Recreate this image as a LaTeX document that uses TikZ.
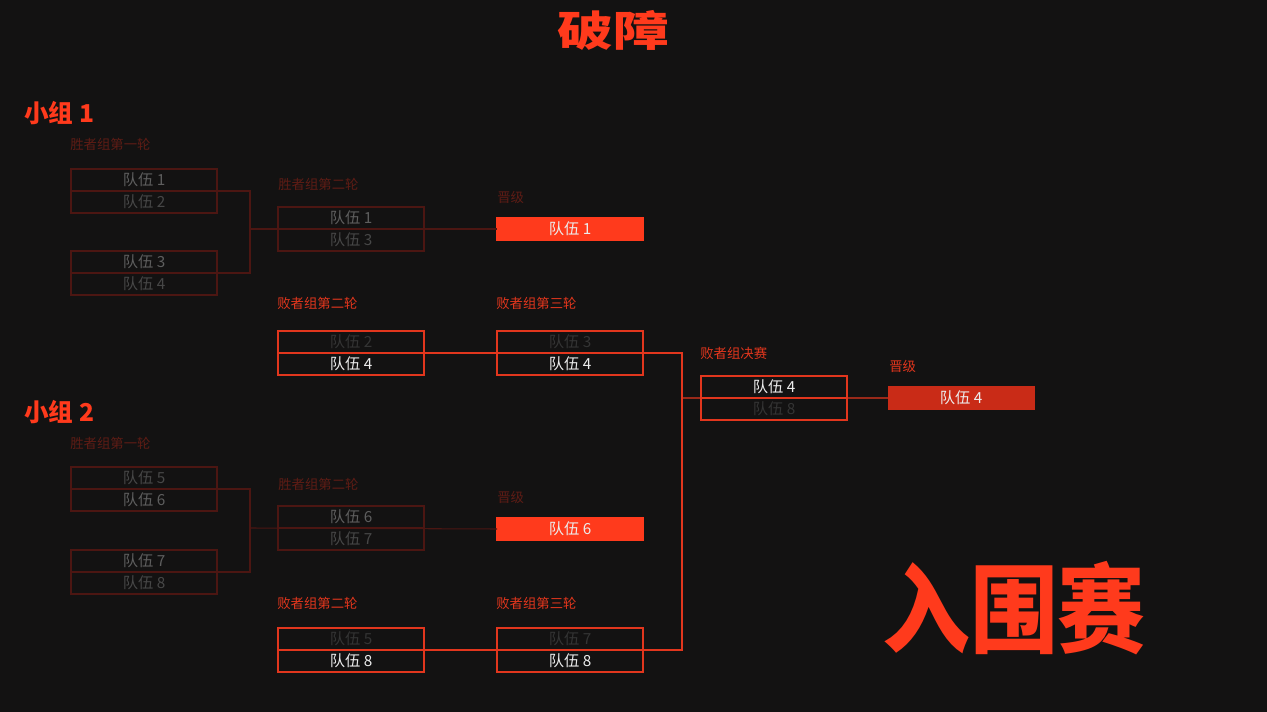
\documentclass[tikz,border=0pt]{standalone}
\usepackage{fontspec}
\usepackage{graphicx}
\setmainfont{Noto Sans CJK SC}
\usetikzlibrary{positioning}

\definecolor{bg}{HTML}{131212}
\definecolor{hot}{HTML}{FF3A1C}
\definecolor{deep}{HTML}{C92B17}
\definecolor{edge}{HTML}{E2361D}
\definecolor{faintedge}{HTML}{4C1612}
\definecolor{fainttag}{HTML}{5E1C15}
\definecolor{lit}{HTML}{ECECEC}
\definecolor{mid}{HTML}{5E5E5E}
\definecolor{low}{HTML}{474747}
\definecolor{off}{HTML}{343434}

\begin{document}
\begin{tikzpicture}[
		x=0.02cm, y=-0.02cm,
		slot/.style={rectangle, draw=edge, line width=0.6pt, outer sep=0pt, inner sep=0pt,
			minimum width=2.92cm, minimum height=0.44cm, text=lit,
			font=\fontsize{8.7}{10}\selectfont},
		faintslot/.style={slot, draw=faintedge, text=low},
		pass/.style={slot, fill=hot, draw=hot, text=lit},
		tag/.style={anchor=west, inner sep=0pt, text=edge, font=\fontsize{7.6}{9}\selectfont},
		fainttag/.style={tag, text=fainttag},
		group/.style={anchor=west, inner sep=0pt, text=hot, font=\fontsize{14}{16}\selectfont\bfseries},
		wire/.style={draw=edge, line width=0.6pt},
		faintwire/.style={draw=faintedge, line width=0.6pt}
	]
		\fill[bg] (0,0) rectangle (1267,712);
		
		% titles
		\node[text=hot, font=\fontsize{27}{30}\selectfont\bfseries](title) at (613,30){\scalebox{1.18}[0.88]{破障}};
		\node[text=hot, font=\fontsize{50}{54}\selectfont\bfseries](stage) at (1014,608){\scalebox{1}[1.1]{入围赛}};
		
		% group 1
		\node[group](g1) at (24,113){小组 1};
		\node[fainttag](g1r1) at (70,144){胜者组第一轮};
		\node[faintslot, text=mid](w1a) at (144,180){队伍 1};
		\node[faintslot](w1b)[below=0pt of w1a]{队伍 2};
		\node[faintslot, text=mid](w1c) at (144,262){队伍 3};
		\node[faintslot](w1d)[below=0pt of w1c]{队伍 4};
		\node[fainttag](g1r2) at (278,184){胜者组第二轮};
		\node[faintslot, text=mid](w2a) at (351,218){队伍 1};
		\node[faintslot](w2b)[below=0pt of w2a]{队伍 3};
		\node[fainttag](g1up) at (497,197){晋级};
		\node[pass](q1) at (570,229){队伍 1};
		
		\node[tag](g1l2) at (277,303){败者组第二轮};
		\node[slot, text=off](l2a) at (351,342){队伍 2};
		\node[slot](l2b)[below=0pt of l2a]{队伍 4};
		\node[tag](g1l3) at (496,303){败者组第三轮};
		\node[slot, text=off](l3a) at (570,342){队伍 3};
		\node[slot](l3b)[below=0pt of l3a]{队伍 4};
		
		% group 2
		\node[group](g2) at (24,412){小组 2};
		\node[fainttag](g2r1) at (70,443){胜者组第一轮};
		\node[faintslot](w5a) at (144,478){队伍 5};
		\node[faintslot, text=mid](w5b)[below=0pt of w5a]{队伍 6};
		\node[faintslot, text=mid](w5c) at (144,561){队伍 7};
		\node[faintslot](w5d)[below=0pt of w5c]{队伍 8};
		\node[fainttag](g2r2) at (278,484){胜者组第二轮};
		\node[faintslot, text=mid](w6a) at (351,517){队伍 6};
		\node[faintslot](w6b)[below=0pt of w6a]{队伍 7};
		\node[fainttag](g2up) at (497,497){晋级};
		\node[pass](q6) at (570,529){队伍 6};
		
		\node[tag](g2l2) at (277,603){败者组第二轮};
		\node[slot, text=off](l5a) at (351,639){队伍 5};
		\node[slot](l5b)[below=0pt of l5a]{队伍 8};
		\node[tag](g2l3) at (496,603){败者组第三轮};
		\node[slot, text=off](l6a) at (570,639){队伍 7};
		\node[slot](l6b)[below=0pt of l6a]{队伍 8};
		
		% losers final
		\node[tag](lf) at (700,353){败者组决赛};
		\node[slot](fa) at (774,387){队伍 4};
		\node[slot, text=off](fb)[below=0pt of fa]{队伍 8};
		\node[tag](lfup) at (889,366){晋级};
		\node[pass, fill=deep, draw=deep](q4) at (961,398){队伍 4};
		
		\coordinate(j1) at (250,229);
		\coordinate(j2) at (250,528);
		\coordinate(j3) at (682,398);
		
		\draw[faintwire](w1a.south east) -| (j1) |- (w1c.south east);
		\draw[faintwire](j1) -- (q1.west);
		\draw[faintwire](w5a.south east) -| (j2) |- (w5c.south east);
		\draw[faintwire](j2) -- (q6.west);
		
		\draw[wire](l2a.south east) -- (l3a.south west);
		\draw[wire](l5a.south east) -- (l6a.south west);
		\draw[wire](l3a.south east) -| (j3) |- (l6a.south east);
		\draw[wire](j3) -- (fa.south west);
		\draw[wire](fa.south east) -- (q4.west);
	\end{tikzpicture}
\end{document}
